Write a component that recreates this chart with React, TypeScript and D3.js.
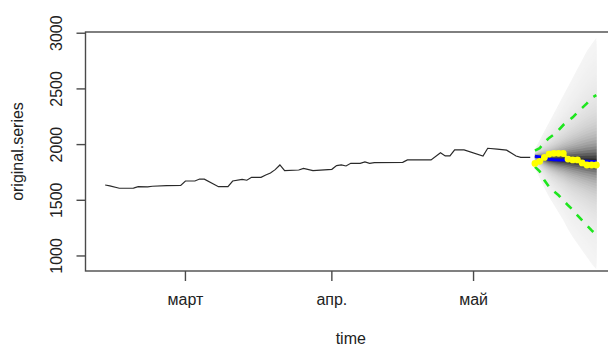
import { useEffect, useRef } from "react";
import * as d3 from "d3";

// observed series (vertices of the black line)
const OBS_DATES = [
  "2020-02-13", "2020-02-14", "2020-02-16", "2020-02-19", "2020-02-20", "2020-02-22",
  "2020-02-23", "2020-02-26", "2020-02-29", "2020-03-01", "2020-03-03", "2020-03-04",
  "2020-03-05", "2020-03-08", "2020-03-10", "2020-03-11", "2020-03-13", "2020-03-14",
  "2020-03-15", "2020-03-17", "2020-03-18", "2020-03-19", "2020-03-20", "2020-03-21",
  "2020-03-22", "2020-03-25", "2020-03-26", "2020-03-28", "2020-04-01", "2020-04-02",
  "2020-04-03", "2020-04-04", "2020-04-05", "2020-04-07", "2020-04-08", "2020-04-09",
  "2020-04-10", "2020-04-16", "2020-04-17", "2020-04-22", "2020-04-24", "2020-04-25",
  "2020-04-26", "2020-04-27", "2020-04-29", "2020-05-03", "2020-05-04", "2020-05-06",
  "2020-05-08", "2020-05-10", "2020-05-11", "2020-05-13",
];
const OBS_VALUES = [
  1637, 1630, 1608, 1610, 1622, 1620,
  1626, 1631, 1633, 1673, 1673, 1691,
  1690, 1622, 1622, 1673, 1688, 1680,
  1706, 1706, 1727, 1745, 1775, 1817,
  1766, 1772, 1787, 1766, 1778, 1811,
  1817, 1808, 1832, 1832, 1845, 1832,
  1838, 1841, 1862, 1862, 1927, 1898,
  1898, 1952, 1952, 1898, 1967, 1960,
  1950, 1898, 1886, 1886,
];

// forecast horizon
const FC_DATES = [
  "2020-05-14", "2020-05-15", "2020-05-16", "2020-05-17", "2020-05-18", "2020-05-19", "2020-05-20",
  "2020-05-21", "2020-05-22", "2020-05-23", "2020-05-24", "2020-05-25", "2020-05-26", "2020-05-27",
];
const FC_MEDIAN = [1895, 1888, 1878, 1868, 1864, 1862, 1862, 1860, 1858, 1855, 1852, 1850, 1848, 1846];
const FC_ACTUAL = [1831, 1850, 1885, 1915, 1922, 1922, 1920, 1870, 1862, 1862, 1835, 1817, 1817, 1817];
const FC_INT_LOWER = [1800, 1760, 1680, 1620, 1580, 1545, 1500, 1455, 1415, 1365, 1320, 1275, 1230, 1189];
const FC_INT_UPPER = [1945, 1967, 2020, 2060, 2090, 2130, 2176, 2210, 2245, 2290, 2330, 2370, 2420, 2445];
const FAN_LOWER = [1790, 1700, 1610, 1530, 1460, 1390, 1320, 1240, 1170, 1110, 1050, 990, 930, 880];
const FAN_UPPER = [1960, 2040, 2120, 2200, 2280, 2360, 2440, 2520, 2600, 2680, 2760, 2840, 2900, 2960];

const Y_TICKS = [1000, 1500, 2000, 2500, 3000];
const X_TICK_DATES = ["2020-03-01", "2020-04-01", "2020-05-01"];
const X_TICK_LABELS = ["март", "апр.", "май"];

const WIDTH = 608;
const HEIGHT = 347;
const FONT = "'Liberation Sans', Arial, sans-serif";

export default function App() {
  const svgRef = useRef<SVGSVGElement>(null);

  useEffect(() => {
    if (!svgRef.current) return;
    const parse = d3.utcParse("%Y-%m-%d");

    const obs = OBS_DATES.map((d, i) => ({ date: parse(d)!, value: OBS_VALUES[i] }));
    const fc = FC_DATES.map((d, i) => ({
      date: parse(d)!,
      median: FC_MEDIAN[i],
      actual: FC_ACTUAL[i],
      lo: FC_INT_LOWER[i],
      hi: FC_INT_UPPER[i],
      fanLo: FAN_LOWER[i],
      fanHi: FAN_UPPER[i],
    }));

    const left = 85.5, right = 616, top = 32, bottom = 271;

    // R style: data range extended by 4%
    const t0 = obs[0].date.getTime();
    const t1 = fc[fc.length - 1].date.getTime();
    const pad = (t1 - t0) * 0.04;
    const x = d3.scaleUtc().domain([new Date(t0 - pad), new Date(t1 + pad)]).range([left, right]);
    const y = d3.scaleLinear().domain([865, 3011]).range([bottom, top]);

    const svg = d3.select(svgRef.current);
    svg.selectAll("*").remove();

    svg.append("defs").append("clipPath").attr("id", "plot-clip")
      .append("rect").attr("x", left).attr("y", top).attr("width", right - left).attr("height", bottom - top);

    const plot = svg.append("g").attr("clip-path", "url(#plot-clip)");

    // fan of predictive quantiles, light outside, dark towards the median
    const N = 40;
    for (let k = N; k >= 1; k--) {
      const f = k / N;
      const dark = 0.9 / (1 + Math.pow(f / 0.13, 1.5));
      const g = Math.round(255 * (1 - dark));
      const area = d3.area<typeof fc[number]>()
        .x((d) => x(d.date))
        .y0((d) => y(d.median - (d.median - d.fanLo) * f))
        .y1((d) => y(d.median + (d.fanHi - d.median) * f));
      plot.append("path")
        .attr("d", area(fc) || "")
        .attr("fill", d3.rgb(g, g, g).toString())
        .attr("stroke", "none");
    }

    // observed series
    const obsLine = d3.line<typeof obs[number]>().x((d) => x(d.date)).y((d) => y(d.value));
    plot.append("path")
      .attr("d", obsLine(obs) || "")
      .attr("fill", "none")
      .attr("stroke", "#2a2a2a")
      .attr("stroke-width", 1.2);

    // interval bounds
    const lo = d3.line<typeof fc[number]>().x((d) => x(d.date)).y((d) => y(d.lo));
    const hi = d3.line<typeof fc[number]>().x((d) => x(d.date)).y((d) => y(d.hi));
    [lo, hi].forEach((ln) => {
      plot.append("path")
        .attr("d", ln(fc) || "")
        .attr("fill", "none")
        .attr("stroke", "#1ee61e")
        .attr("stroke-width", 2.6)
        .attr("stroke-dasharray", "8 8");
    });

    // median
    const med = d3.line<typeof fc[number]>().x((d) => x(d.date)).y((d) => y(d.median));
    plot.append("path")
      .attr("d", med(fc) || "")
      .attr("fill", "none")
      .attr("stroke", "#0000ff")
      .attr("stroke-width", 3);

    // actual holdout values
    const act = d3.line<typeof fc[number]>().x((d) => x(d.date)).y((d) => y(d.actual));
    plot.append("path")
      .attr("d", act(fc) || "")
      .attr("fill", "none")
      .attr("stroke", "#ffff00")
      .attr("stroke-width", 2.4);
    plot.selectAll("circle.act")
      .data(fc)
      .enter()
      .append("circle")
      .attr("cx", (d) => x(d.date))
      .attr("cy", (d) => y(d.actual))
      .attr("r", 3.4)
      .attr("fill", "#ffff00");

    // box
    svg.append("rect")
      .attr("x", left).attr("y", top)
      .attr("width", right - left).attr("height", bottom - top)
      .attr("fill", "none").attr("stroke", "#4a4a4a").attr("stroke-width", 1.4);

    // y axis
    Y_TICKS.forEach((v) => {
      svg.append("line")
        .attr("x1", left).attr("x2", left - 9)
        .attr("y1", y(v)).attr("y2", y(v))
        .attr("stroke", "#4a4a4a").attr("stroke-width", 1.4);
      svg.append("text")
        .attr("transform", `translate(62,${y(v)}) rotate(-90)`)
        .attr("text-anchor", "middle")
        .attr("font-family", FONT)
        .attr("font-size", "16px")
        .attr("fill", "#222")
        .text(String(v));
    });

    // x axis
    X_TICK_DATES.forEach((d, i) => {
      const px = x(parse(d)!);
      svg.append("line")
        .attr("x1", px).attr("x2", px)
        .attr("y1", bottom).attr("y2", bottom + 10)
        .attr("stroke", "#4a4a4a").attr("stroke-width", 1.4);
      svg.append("text")
        .attr("x", px).attr("y", 305)
        .attr("text-anchor", "middle")
        .attr("font-family", FONT)
        .attr("font-size", "16px")
        .attr("fill", "#222")
        .text(X_TICK_LABELS[i]);
    });

    // axis titles
    svg.append("text")
      .attr("x", (left + right) / 2).attr("y", 344)
      .attr("text-anchor", "middle")
      .attr("font-family", FONT)
      .attr("font-size", "16px")
      .attr("fill", "#222")
      .text("time");
    svg.append("text")
      .attr("transform", `translate(23,${(top + bottom) / 2}) rotate(-90)`)
      .attr("text-anchor", "middle")
      .attr("font-family", FONT)
      .attr("font-size", "16px")
      .attr("fill", "#222")
      .text("original.series");
  }, []);

  return (
    <svg
      ref={svgRef}
      width={WIDTH}
      height={HEIGHT}
      style={{ position: "absolute", left: 0, top: 0, background: "#fff" }}
    />
  );
}
